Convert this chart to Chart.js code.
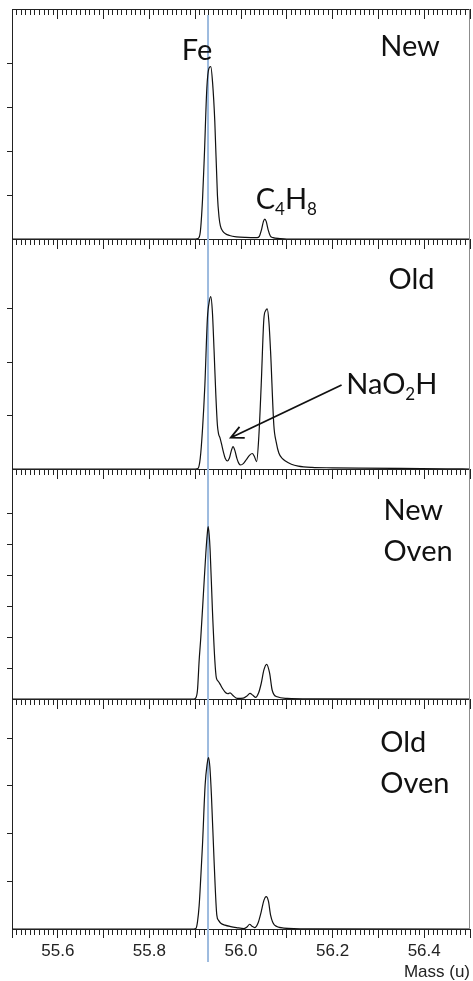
<!DOCTYPE html>
<html lang="en">
<head>
<meta charset="UTF-8">
<title>Fe 56 region, four samples</title>
<script src="https://cdn.jsdelivr.net/npm/chart.js@4.4.1/dist/chart.umd.min.js"></script>
<style>
  html, body { margin: 0; padding: 0; background: #fff; }
  #wrap { width: 473px; height: 981px; position: relative; }
</style>
</head>
<body>
<div id="wrap"><canvas id="spectra"></canvas></div>
<script>
const massMin = 55.5;
const massMax = 56.5;
const feMass = 55.928;
const xTickLabels = ['55.6', '55.8', '56.0', '56.2', '56.4'];

const panelNames = ['New', 'Old', 'New Oven', 'Old Oven'];
const panelMax = [5.23, 4.31, 7.42, 4.82];
const panelTicks = [4, 3, 6, 4];

const massNew = [55.5, 55.9, 55.906, 55.911, 55.916, 55.92, 55.9254, 55.93, 55.934, 55.938, 55.9428, 55.9485, 55.952, 55.955, 55.96, 55.966, 55.975, 55.99, 56.01, 56.035, 56.04, 56.045, 56.049, 56.052, 56.055, 56.059, 56.064, 56.07, 56.085, 56.1, 56.5];
const intNew = [0, 0, 0.01, 0.15, 0.9, 1.9, 3.43, 3.88, 3.92, 3.55, 2.67, 1.0, 0.5, 0.3, 0.18, 0.12, 0.08, 0.05, 0.035, 0.03, 0.06, 0.22, 0.4, 0.45, 0.4, 0.22, 0.07, 0.03, 0.01, 0, 0];

const massOld = [55.5, 55.9, 55.906, 55.911, 55.916, 55.9211, 55.9267, 55.931, 55.9341, 55.9375, 55.9413, 55.945, 55.9485, 55.951, 55.9543, 55.958, 55.9615, 55.9655, 55.9702, 55.9745, 55.9785, 55.9826, 55.9865, 55.991, 55.9955, 55.9993, 56.005, 56.012, 56.019, 56.0246, 56.029, 56.0341, 56.039, 56.0441, 56.05, 56.054, 56.0572, 56.061, 56.0646, 56.0717, 56.077, 56.0826, 56.09, 56.097, 56.11, 56.125, 56.155, 56.2, 56.26, 56.35, 56.45, 56.5];
const intOld = [0, 0, 0.01, 0.2, 0.75, 1.57, 2.83, 3.15, 3.23, 2.95, 2.2, 1.4, 0.82, 0.66, 0.58, 0.45, 0.32, 0.2, 0.15, 0.2, 0.33, 0.42, 0.35, 0.2, 0.1, 0.075, 0.1, 0.18, 0.26, 0.29, 0.24, 0.14, 0.62, 1.57, 2.82, 2.97, 3.0, 2.75, 2.2, 0.82, 0.5, 0.3, 0.2, 0.15, 0.09, 0.055, 0.03, 0.022, 0.016, 0.01, 0.005, 0];

const massNewOven = [55.5, 55.897, 55.901, 55.905, 55.9087, 55.9123, 55.918, 55.9232, 55.9262, 55.9283, 55.9305, 55.9326, 55.9376, 55.9428, 55.9463, 55.95, 55.9543, 55.96, 55.9667, 55.9715, 55.9761, 55.982, 55.992, 56.005, 56.013, 56.0196, 56.026, 56.032, 56.0385, 56.0441, 56.05, 56.0559, 56.0624, 56.068, 56.0789, 56.1007, 56.15, 56.5];
const intNewOven = [0, 0, 0.03, 0.29, 1.26, 2.0, 3.41, 4.7, 5.3, 5.56, 5.3, 4.8, 2.87, 1.26, 0.67, 0.58, 0.48, 0.33, 0.2, 0.17, 0.2, 0.12, 0.02, 0.03, 0.1, 0.18, 0.12, 0.05, 0.2, 0.5, 0.94, 1.12, 0.84, 0.29, 0.07, 0.02, 0.005, 0];

const massOldOven = [55.5, 55.897, 55.9015, 55.905, 55.9087, 55.912, 55.9159, 55.9217, 55.926, 55.929, 55.932, 55.9354, 55.9413, 55.9472, 55.951, 55.9559, 55.965, 55.9776, 55.99, 56.0065, 56.013, 56.0189, 56.024, 56.0298, 56.037, 56.0441, 56.05, 56.055, 56.06, 56.0646, 56.0733, 56.0935, 56.15, 56.5];
const intOldOven = [0, 0, 0.01, 0.15, 0.5, 1.05, 1.76, 3.02, 3.45, 3.59, 3.4, 2.81, 1.41, 0.29, 0.18, 0.12, 0.08, 0.05, 0.03, 0.01, 0.04, 0.1, 0.06, 0.03, 0.12, 0.36, 0.6, 0.68, 0.58, 0.29, 0.08, 0.02, 0.005, 0];

// text labels, anchored in data units of their own panel (left baseline unless centred)
const notes = [
  { panel: 0, mass: 55.904, value: 4.07, parts: [['Fe', 0]], align: 'center' },
  { panel: 0, mass: 56.304, value: 4.16, parts: [['New', 0]] },
  { panel: 0, mass: 56.032, value: 0.69, parts: [['C', 0], ['4', 1], ['H', 0], ['8', 1]] },
  { panel: 1, mass: 56.322, value: 3.37, parts: [['Old', 0]] },
  { panel: 1, mass: 56.230, value: 1.40, parts: [['NaO', 0], ['2', 1], ['H', 0]] },
  { panel: 2, mass: 56.311, value: 5.77, parts: [['New', 0]] },
  { panel: 2, mass: 56.311, value: 4.46, parts: [['Oven', 0]] },
  { panel: 3, mass: 56.304, value: 3.71, parts: [['Old', 0]] },
  { panel: 3, mass: 56.304, value: 2.85, parts: [['Oven', 0]] }
];
const arrowFrom = { panel: 1, mass: 56.2196, value: 1.573 };
const arrowTo = { panel: 1, mass: 55.9776, value: 0.586 };

const yIds = ['y1', 'y2', 'y3', 'y4'];
const panels = [[massNew, intNew], [massOld, intOld], [massNewOven, intNewOven], [massOldOven, intOldOven]];

const axisColor = '#222';
const scales = {};

// stacked panels; chart.js puts the last listed one on top, so go bottom-up
for (let i = 3; i >= 0; i--) {
  scales[yIds[i]] = {
    type: 'linear',
    position: 'left',
    stack: 'panels',
    stackWeight: 1,
    min: 0,
    max: panelMax[i],
    afterBuildTicks: s => {
      s.ticks = s.ticks.filter(t => Number.isInteger(t.value) && t.value >= 1 && t.value <= panelTicks[i]);
    },
    afterFit: s => { s.width = 12; },
    ticks: { display: false, stepSize: 1, includeBounds: false },
    grid: { drawOnChartArea: false, tickLength: 5, tickColor: axisColor },
    border: { color: axisColor, width: 1 }
  };
}

function tickRow(position, len, step) {
  return {
    type: 'linear',
    axis: 'x',
    position: position,
    min: massMin,
    max: massMax,
    ticks: { display: false, stepSize: step },
    grid: { drawOnChartArea: false, tickLength: len, tickColor: axisColor },
    border: { color: axisColor, width: 1 }
  };
}

scales.x = {
  type: 'linear',
  position: 'bottom',
  min: massMin,
  max: massMax,
  afterFit: s => { s.height = 52; },
  ticks: {
    stepSize: 0.1,
    autoSkip: false,
    maxRotation: 0,
    padding: 3,
    color: axisColor,
    font: { family: 'Liberation Sans', size: 17 },
    callback: v => {
      const s = Number(v).toFixed(1);
      return xTickLabels.includes(s) ? s : '';
    }
  },
  grid: { drawOnChartArea: false, tickLength: 9, tickColor: axisColor },
  border: { color: axisColor, width: 1 },
  title: {
    display: true,
    text: 'Mass (u)',
    align: 'end',
    color: axisColor,
    padding: 0,
    font: { family: 'Liberation Sans', size: 17, lineHeight: 1 }
  }
};
scales.xMinor = tickRow({ y4: 0 }, 5, 0.01);
scales.xTop = tickRow({ y1: panelMax[0] }, 9, 0.1);
scales.xTopMinor = tickRow({ y1: panelMax[0] }, 5, 0.01);
for (let i = 0; i < 3; i++) {
  scales['xSep' + i] = tickRow({ [yIds[i]]: 0 }, 9, 0.1);
  scales['xSepMinor' + i] = tickRow({ [yIds[i]]: 0 }, 5, 0.01);
}

function drawParts(ctx, parts, x, y, size, align) {
  const subSize = Math.round(size * 0.6);
  let width = 0;
  parts.forEach(([t, sub]) => {
    ctx.font = (sub ? subSize : size) + 'px Lato';
    width += ctx.measureText(t).width;
  });
  let cx = align === 'center' ? x - width / 2 : x;
  parts.forEach(([t, sub]) => {
    ctx.font = (sub ? subSize : size) + 'px Lato';
    ctx.fillText(t, cx, y + (sub ? 6 : 0));
    cx += ctx.measureText(t).width;
  });
}

const annotate = {
  id: 'annotate',
  beforeDatasetsDraw(chart) {
    const { ctx, chartArea } = chart;
    const x = chart.scales.x.getPixelForValue(feMass);
    ctx.save();
    ctx.strokeStyle = '#9dbbdf';
    ctx.lineWidth = 2;
    ctx.beginPath();
    ctx.moveTo(x, chartArea.top + 6);
    ctx.lineTo(x, chartArea.bottom + 33);
    ctx.stroke();
    ctx.restore();
  },
  afterDraw(chart) {
    const { ctx, chartArea } = chart;
    const xs = chart.scales.x;
    ctx.save();
    // right frame
    ctx.strokeStyle = '#8c8c8c';
    ctx.lineWidth = 1;
    ctx.beginPath();
    ctx.moveTo(chartArea.right - 0.5, chartArea.top);
    ctx.lineTo(chartArea.right - 0.5, chartArea.bottom);
    ctx.stroke();

    ctx.fillStyle = '#111';
    ctx.textBaseline = 'alphabetic';
    notes.forEach(n => {
      const x = xs.getPixelForValue(n.mass);
      const y = chart.scales[yIds[n.panel]].getPixelForValue(n.value);
      drawParts(ctx, n.parts, x, y, 29, n.align);
    });

    // arrow to the NaO2H bumps
    const ya = chart.scales[yIds[arrowFrom.panel]];
    const x1 = xs.getPixelForValue(arrowFrom.mass), y1 = ya.getPixelForValue(arrowFrom.value);
    const x2 = xs.getPixelForValue(arrowTo.mass), y2 = ya.getPixelForValue(arrowTo.value);
    const ang = Math.atan2(y1 - y2, x1 - x2);
    ctx.strokeStyle = '#111';
    ctx.lineWidth = 1.8;
    ctx.beginPath();
    ctx.moveTo(x1, y1);
    ctx.lineTo(x2, y2);
    ctx.moveTo(x2 + 14 * Math.cos(ang - 0.45), y2 + 14 * Math.sin(ang - 0.45));
    ctx.lineTo(x2, y2);
    ctx.lineTo(x2 + 14 * Math.cos(ang + 0.45), y2 + 14 * Math.sin(ang + 0.45));
    ctx.stroke();
    ctx.restore();
  }
};

new Chart(document.getElementById('spectra'), {
  type: 'line',
  data: {
    datasets: panels.map((p, i) => ({
      label: panelNames[i],
      data: p[0].map((m, j) => ({ x: m, y: p[1][j] })),
      xAxisID: 'x',
      yAxisID: yIds[i],
      borderColor: '#111',
      borderWidth: 1.2,
      pointRadius: 0,
      fill: false,
      cubicInterpolationMode: 'monotone'
    }))
  },
  options: {
    responsive: true,
    maintainAspectRatio: false,
    animation: false,
    layout: { padding: { top: 9, right: 1, bottom: 0, left: 0 } },
    plugins: { legend: { display: false }, tooltip: { enabled: false } },
    scales: scales
  },
  plugins: [annotate]
});
</script>
</body>
</html>
